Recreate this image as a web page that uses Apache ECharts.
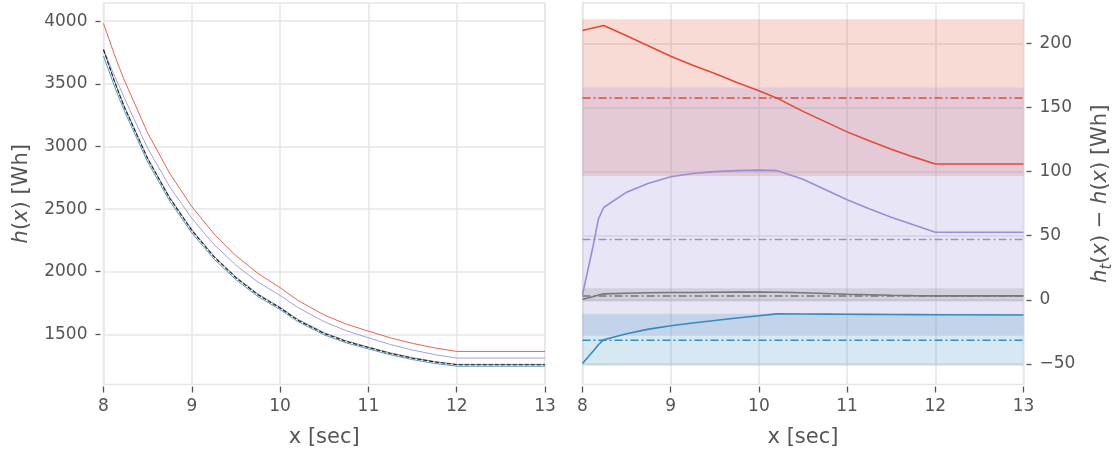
<!DOCTYPE html>
<html><head><meta charset="utf-8">
<script src="https://cdn.jsdelivr.net/npm/echarts@6/dist/echarts.min.js"></script>
<style>html,body{margin:0;padding:0;background:#fff}#c{width:1115px;height:456px}</style>
</head><body><div id="c"></div>
<script>
// ---------- data ----------
const xs = [8, 8.12, 8.18, 8.24, 8.5, 8.75, 9, 9.25, 9.5, 9.75, 10, 10.2, 10.5, 10.75, 11, 11.25, 11.5, 11.75, 12, 13];
const xTicks = [8, 9, 10, 11, 12, 13];
const hTicks = [1500, 2000, 2500, 3000, 3500, 4000];
const dTicks = [-50, 0, 50, 100, 150, 200];

// left panel: h(x) and h_t(x) per method [Wh]
const hTrue   = [3772, 3528, 3415, 3308, 2902, 2587, 2330, 2120, 1952, 1816, 1710, 1614, 1507, 1443, 1395, 1348, 1310, 1280, 1258, 1258];
const hRed    = [3982, 3740, 3628, 3522, 3108, 2785, 2520, 2303, 2128, 1986, 1873, 1772, 1654, 1582, 1526, 1472, 1428, 1392, 1364, 1364];
const hPurple = [3776, 3570, 3478, 3380, 2986, 2678, 2426, 2219, 2052, 1917, 1811, 1715, 1601, 1529, 1473, 1419, 1375, 1339, 1311, 1311];
const hGray   = [3773, 3531, 3419, 3313, 2907, 2593, 2336, 2126, 1958, 1822, 1716, 1620, 1513, 1448, 1399, 1352, 1314, 1283, 1261, 1261];
const hBlue   = [3722, 3488, 3380, 3277, 2876, 2564, 2310, 2102, 1936, 1802, 1698, 1603, 1496, 1432, 1384, 1337, 1299, 1268, 1246, 1246];

// right panel: h_t(x) - h(x) per method [Wh]
const dRed    = [210, 212, 213, 214, 206, 198, 190, 183, 176.5, 169.5, 163, 157.5, 147, 139, 131, 124, 117.5, 111.5, 106, 106];
const dPurple = [4, 42, 63, 72, 84, 91, 96, 98.6, 100, 100.8, 101.2, 100.8, 94, 86, 78, 71, 64.5, 58.5, 52.7, 52.7];
const dGray   = [0.5, 2.5, 3.8, 4.7, 5.2, 5.5, 5.7, 5.8, 5.9, 6, 6, 5.9, 5.6, 5.0, 4.4, 4.0, 3.6, 3.3, 3.1, 3.1];
const dBlue   = [-49.7, -40, -35, -31.1, -26.4, -22.8, -20.2, -18.1, -16.1, -14.2, -12.4, -10.9, -11, -11.1, -11.2, -11.3, -11.4, -11.5, -11.6, -11.8];

// mean and band per method: red, purple, gray, blue
const dMean = [157.4, 47.0, 3.1, -31.5];
const bandLow = [96.5, -28, -1.3, -51.3];
const bandHigh = [218.8, 165.6, 9.1, -10.9];

// ---------- styles ----------
const COL = ['#E24A33', '#988ED5', '#777777', '#348ABD'];
const BAND = ['rgba(226,74,51,0.2)', 'rgba(152,142,213,0.22)', 'rgba(119,119,119,0.2)', 'rgba(52,138,189,0.2)'];
const TXT = '#555555';
const GRIDC = '#e6e6e6';
const FONT = 'DejaVu Sans';

const pairs = (ys) => xs.map((x, i) => [x, ys[i]]);

const chart = echarts.init(document.getElementById('c'), null, {renderer: 'canvas'});

const axisCommon = {
  axisLine: {show: false, onZero: false},
  splitLine: {show: true, lineStyle: {color: GRIDC, width: 1.5}},
};
const labelStyle = {color: TXT, fontFamily: FONT, fontSize: 17};
const nameStyle = {color: TXT, fontFamily: FONT, fontSize: 21};

function xAxisDef(gi) {
  return Object.assign({}, axisCommon, {
    type: 'value', gridIndex: gi, min: xs[0], max: xs[xs.length - 1], interval: 1,
    offset: 2,
    axisLabel: Object.assign({margin: 12, customValues: xTicks, formatter: v => String(v)}, labelStyle),
    axisTick: {show: true, length: 6, customValues: xTicks, lineStyle: {color: TXT, width: 1.3}},
    name: 'x [sec]', nameLocation: 'middle', nameGap: 41, nameTextStyle: nameStyle,
  });
}

const diffs = [dRed, dPurple, dGray, dBlue];
const lefts = [hRed, hPurple, hGray, hBlue];

const series = [];
// left panel lines
[3, 0, 1, 2].forEach(i => {
  series.push({type: 'line', xAxisIndex: 0, yAxisIndex: 0, data: pairs(lefts[i]), showSymbol: false,
    z: 3, lineStyle: {color: COL[i], width: 1, opacity: 0.85}});
});
series.push({type: 'line', xAxisIndex: 0, yAxisIndex: 0, data: pairs(hTrue), showSymbol: false,
  z: 4, lineStyle: {color: '#222222', width: 1.1, type: [4, 2]}});

// right panel bands
series.push({type: 'line', xAxisIndex: 1, yAxisIndex: 1, data: [], z: 1, silent: true,
  markArea: {silent: true, data: bandLow.map((lo, i) => [
    {yAxis: lo, itemStyle: {color: BAND[i]}}, {yAxis: bandHigh[i]}])}});
// mean lines
dMean.forEach((m, i) => {
  series.push({type: 'line', xAxisIndex: 1, yAxisIndex: 1, data: [[xs[0], m], [xs[xs.length - 1], m]],
    showSymbol: false, z: 3, lineStyle: {color: COL[i], width: 1.5, type: [8, 3, 2, 3]}});
});
// diff lines
diffs.forEach((d, i) => {
  series.push({type: 'line', xAxisIndex: 1, yAxisIndex: 1, data: pairs(d), showSymbol: false, z: 4,
    lineStyle: {color: COL[i], width: 1.6}});
});

chart.setOption({
  animation: false,
  backgroundColor: '#ffffff',
  textStyle: {fontFamily: FONT},
  grid: [
    {left: 103.5, top: 3, width: 441.5, height: 381.5, show: true, borderColor: GRIDC, borderWidth: 1.5, containLabel: false, outerBoundsMode: 'none'},
    {left: 582.5, top: 3, width: 441, height: 381.5, show: true, borderColor: GRIDC, borderWidth: 1.5, containLabel: false, outerBoundsMode: 'none'},
  ],
  xAxis: [xAxisDef(0), xAxisDef(1)],
  yAxis: [
    Object.assign({}, axisCommon, {
      type: 'value', gridIndex: 0, min: 1100, max: 4145, offset: 3,
      axisLabel: Object.assign({margin: 13, customValues: hTicks, formatter: v => String(v)}, labelStyle),
      axisTick: {show: true, length: 5, customValues: hTicks, lineStyle: {color: TXT, width: 1.3}},
      name: '{i|h}{n|(}{i|x}{n|) [Wh]}', nameLocation: 'middle', nameRotate: 90, nameGap: 68,
      nameTextStyle: Object.assign({rich: {
        i: {fontFamily: FONT, fontSize: 21, fontStyle: 'italic', color: TXT},
        n: {fontFamily: FONT, fontSize: 21, color: TXT}}}, nameStyle),
    }),
    Object.assign({}, axisCommon, {
      type: 'value', gridIndex: 1, position: 'right', min: -66, max: 231.5, offset: 3,
      axisLabel: Object.assign({margin: 13, customValues: dTicks,
        formatter: v => (v < 0 ? '\u2212' + Math.abs(v) : String(v))}, labelStyle),
      axisTick: {show: true, length: 5, customValues: dTicks, lineStyle: {color: TXT, width: 1.3}},
      name: '{i|h}{s|t}{n|(}{i|x}{n|) \u2212 }{i|h}{n|(}{i|x}{n|) [Wh]}', nameLocation: 'middle', nameRotate: 90, nameGap: 60,
      nameTextStyle: Object.assign({rich: {
        i: {fontFamily: FONT, fontSize: 21, fontStyle: 'italic', color: TXT, lineHeight: 28},
        s: {fontFamily: FONT, fontSize: 15, fontStyle: 'italic', color: TXT, verticalAlign: 'bottom', lineHeight: 28},
        n: {fontFamily: FONT, fontSize: 21, color: TXT, lineHeight: 28}}}, nameStyle),
    }),
  ],
  series: series,
});
</script>
</body></html>
